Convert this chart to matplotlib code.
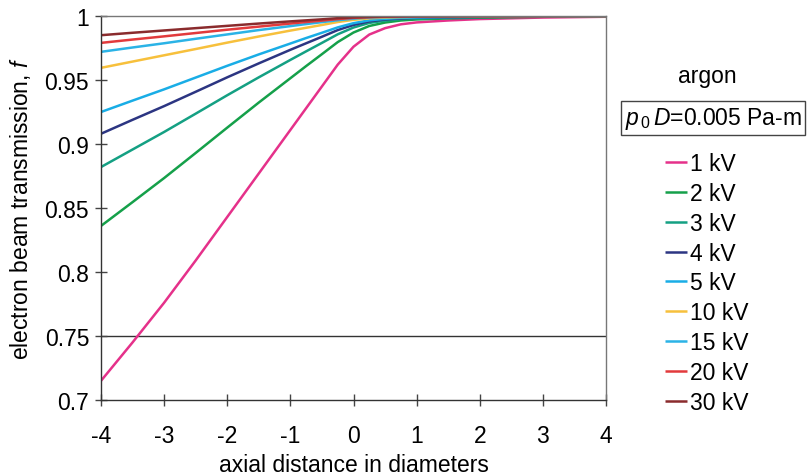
import matplotlib
matplotlib.use('Agg')
import matplotlib.pyplot as plt

plt.rcParams['font.family'] = ['Liberation Sans', 'DejaVu Sans']
plt.rcParams['mathtext.fontset'] = 'custom'
plt.rcParams['mathtext.rm'] = 'Liberation Sans'
plt.rcParams['mathtext.it'] = 'Liberation Sans:italic'

FONT_SIZE = 16.5

# axial distance in diameters
x = [-4, -3.5, -3, -2.5, -2, -1.5, -1, -0.75, -0.5, -0.25, 0, 0.25, 0.5, 0.75, 1, 1.5, 2, 3, 4]

# electron beam transmission
f_1kv = [0.715, 0.745, 0.776, 0.809, 0.843, 0.877, 0.911, 0.928, 0.945, 0.962, 0.976, 0.9855, 0.9905, 0.9935, 0.995, 0.9965, 0.9976, 0.9988, 0.9994]
f_2kv = [0.836, 0.8546, 0.8734, 0.8930, 0.9128, 0.9324, 0.9514, 0.9609, 0.9702, 0.9796, 0.9871, 0.9922, 0.9949, 0.9965, 0.9973, 0.9981, 0.9987, 0.9994, 0.9997]
f_3kv = [0.882, 0.8957, 0.9094, 0.9237, 0.9381, 0.9521, 0.9657, 0.9724, 0.9790, 0.9857, 0.9910, 0.9946, 0.9964, 0.9976, 0.9981, 0.9987, 0.9991, 0.9996, 0.9998]
f_4kv = [0.908, 0.9189, 0.9296, 0.9408, 0.9521, 0.9630, 0.9736, 0.9787, 0.9838, 0.9890, 0.9930, 0.9958, 0.9973, 0.9981, 0.9986, 0.9990, 0.9993, 0.9997, 0.9998]
f_5kv = [0.925, 0.9339, 0.9427, 0.9519, 0.9611, 0.9700, 0.9785, 0.9828, 0.9869, 0.9911, 0.9944, 0.9966, 0.9978, 0.9985, 0.9988, 0.9992, 0.9994, 0.9997, 0.9999]
f_10kv = [0.9595, 0.9644, 0.9693, 0.9742, 0.9792, 0.9840, 0.9886, 0.9908, 0.9930, 0.9953, 0.9970, 0.9982, 0.9988, 0.9992, 0.9994, 0.9996, 0.9997, 0.9999, 0.9999]
f_15kv = [0.972, 0.9754, 0.9787, 0.9822, 0.9856, 0.9890, 0.9921, 0.9937, 0.9952, 0.9967, 0.9979, 0.9988, 0.9992, 0.9994, 0.9996, 0.9997, 0.9998, 0.9999, 1.0]
f_20kv = [0.979, 0.9816, 0.9841, 0.9867, 0.9893, 0.9917, 0.9941, 0.9953, 0.9964, 0.9976, 0.9985, 0.9991, 0.9994, 0.9996, 0.9997, 0.9998, 0.9998, 0.9999, 1.0]
f_30kv = [0.985, 0.9869, 0.9887, 0.9905, 0.9923, 0.9941, 0.9958, 0.9966, 0.9974, 0.9983, 0.9989, 0.9993, 0.9996, 0.9997, 0.9998, 0.9998, 0.9999, 0.9999, 1.0]

series = [f_1kv, f_2kv, f_3kv, f_4kv, f_5kv, f_10kv, f_15kv, f_20kv, f_30kv]
labels = ['1 kV', '2 kV', '3 kV', '4 kV', '5 kV', '10 kV', '15 kV', '20 kV', '30 kV']
colors = ['#e5318a', '#15a04a', '#14a083', '#2c3582', '#19ade6',
          '#f7c03c', '#2bb3e6', '#e23a3c', '#8a2b2d']

x_ticks = [-4, -3, -2, -1, 0, 1, 2, 3, 4]
y_ticks = [0.7, 0.75, 0.8, 0.85, 0.9, 0.95, 1.0]
y_tick_labels = ['0.7', '0.75', '0.8', '0.85', '0.9', '0.95', '1']

fig = plt.figure(figsize=(8.1, 4.77), dpi=100)
ax = fig.add_axes([101 / 810, 1 - 401 / 477, 505 / 810, 384 / 477])

for data, label, color in zip(series, labels, colors):
    ax.plot(x, data, color=color, lw=1.8, label=label,
            solid_joinstyle='round', solid_capstyle='butt')

ax.axhline(0.75, color='#333333', lw=1.0, zorder=0)

ax.set_xlim(-4, 4)
ax.set_ylim(0.7, 1.0)
ax.set_xticks(x_ticks)
ax.set_xticklabels([str(t) for t in x_ticks])
ax.set_yticks(y_ticks)
ax.set_yticklabels(y_tick_labels)
ax.tick_params(direction='inout', length=9, width=1.0, color='#444444',
               labelsize=FONT_SIZE, pad=4)
ax.tick_params(axis='x', pad=13)

for side in ['left', 'bottom']:
    ax.spines[side].set_color('#333333')
    ax.spines[side].set_linewidth(1.0)
for side in ['top', 'right']:
    ax.spines[side].set_color('#777777')
    ax.spines[side].set_linewidth(1.0)

ax.set_xlabel('axial distance in diameters', fontsize=FONT_SIZE, labelpad=4)
ax.set_ylabel('electron beam transmission, $f$', fontsize=FONT_SIZE, labelpad=8)

fig.text(707 / 810, 1 - 77 / 477, 'argon', fontsize=FONT_SIZE,
         ha='center', va='center')
fig.text(713 / 810, 1 - 119 / 477, r'$p_{\,\mathit{0}}\,D$=0.005 Pa-m', fontsize=FONT_SIZE,
         ha='center', va='center',
         bbox=dict(boxstyle='square,pad=0.16', fc='white', ec='#444444', lw=1.0))

handles, labs = ax.get_legend_handles_labels()
fig.legend(handles, labs, loc='upper left', bbox_to_anchor=(665 / 810, 1 - 153 / 477),
           frameon=False, fontsize=FONT_SIZE, handlelength=0.95,
           handletextpad=0.15, labelspacing=0.3, borderpad=0, borderaxespad=0)

fig.savefig('out.png', dpi=100)
